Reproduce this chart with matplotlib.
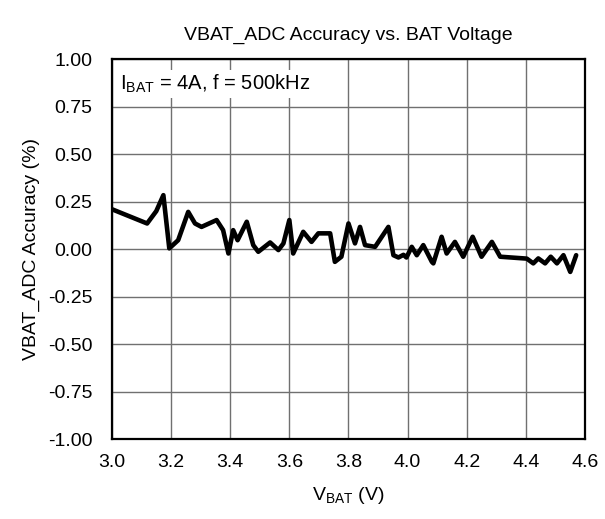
import matplotlib.pyplot as plt
import numpy as np

plt.rcParams['font.family'] = ['Liberation Sans', 'DejaVu Sans']

# VBAT_ADC accuracy
vbat = [3.000, 3.119, 3.150, 3.174, 3.194, 3.224, 3.258, 3.281, 3.303, 3.354,
        3.376, 3.394, 3.410, 3.425, 3.456, 3.478, 3.495, 3.535, 3.563, 3.580,
        3.600, 3.613, 3.647, 3.675, 3.698, 3.738, 3.754, 3.776, 3.800, 3.822,
        3.839, 3.856, 3.890, 3.935, 3.952, 3.969, 3.986, 3.996, 4.014, 4.031,
        4.053, 4.082, 4.087, 4.115, 4.132, 4.160, 4.188, 4.220, 4.250, 4.285,
        4.313, 4.403, 4.425, 4.442, 4.465, 4.484, 4.505, 4.527, 4.550, 4.570]
accuracy = [0.210, 0.135, 0.200, 0.284, 0.004, 0.047, 0.196, 0.135, 0.117, 0.153,
            0.100, -0.023, 0.100, 0.047, 0.144, 0.021, -0.014, 0.035, -0.005, 0.030,
            0.153, -0.023, 0.091, 0.038, 0.083, 0.083, -0.067, -0.040, 0.135, 0.030,
            0.117, 0.021, 0.012, 0.117, -0.032, -0.044, -0.030, -0.044, 0.012, -0.032,
            0.021, -0.067, -0.075, 0.065, -0.023, 0.038, -0.040, 0.065, -0.040, 0.038,
            -0.040, -0.050, -0.075, -0.049, -0.075, -0.040, -0.075, -0.032, -0.120, -0.032]

xticks = np.arange(3.0, 4.61, 0.2)
yticks = np.arange(-1.0, 1.01, 0.25)

fig = plt.figure(figsize=(6.05, 5.19), dpi=100)
ax = fig.add_axes([0.185, 0.154, 0.782, 0.732])

ax.plot(vbat, accuracy, color='black', linewidth=3.3, solid_joinstyle='round',
        solid_capstyle='round', zorder=3)

ax.set_xlim(3.0, 4.6)
ax.set_ylim(-1.0, 1.0)
ax.set_xticks(xticks)
ax.set_xticklabels([f'{t:.1f}' for t in xticks])
ax.set_yticks(yticks)
ax.set_yticklabels([f'{t:.2f}' for t in yticks])
ax.tick_params(length=0, labelsize=14)
ax.tick_params(axis='x', pad=11)
ax.tick_params(axis='y', pad=14)
ax.grid(color='#707070', linewidth=1.0)
for s in ax.spines.values():
    s.set_linewidth(1.6)

ax.set_title('VBAT_ADC Accuracy vs. BAT Voltage', fontsize=14, pad=14)
ax.set_xlabel(r'V$\mathregular{_{BAT}}$ (V)', fontsize=14, labelpad=10)
ax.set_ylabel('VBAT_ADC Accuracy (%)', fontsize=14, labelpad=6)

ax.text(0.018, 0.965, r'I$\mathregular{_{BAT}}$ = 4A, f = 500kHz', transform=ax.transAxes,
        fontsize=14.5, va='top', ha='left', zorder=4,
        bbox=dict(facecolor='white', edgecolor='none', pad=2))

plt.savefig('out.png', dpi=100)
